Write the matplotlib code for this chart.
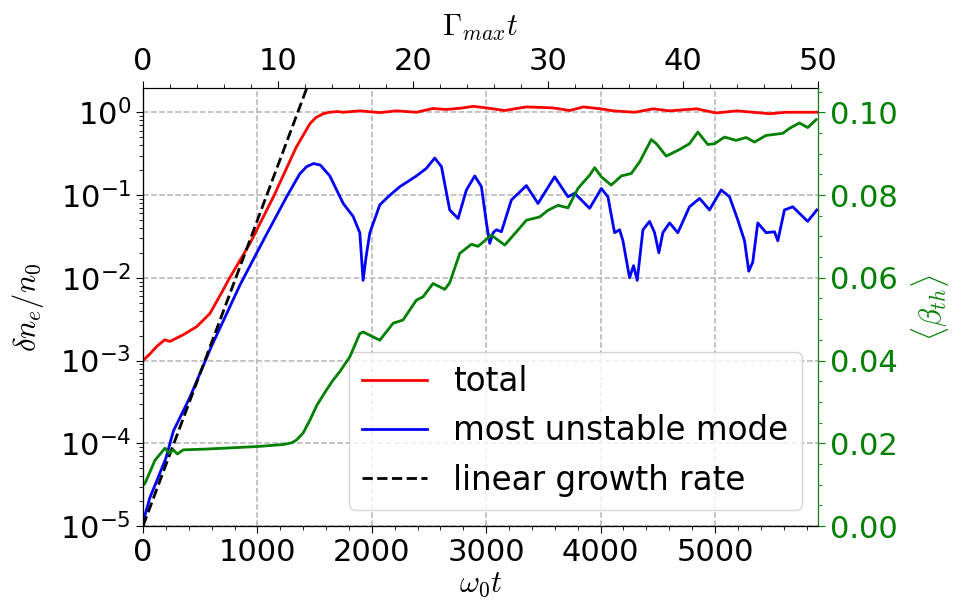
"""
Density perturbation growth and mean thermal beta vs. time.
"""

import matplotlib
matplotlib.use("Agg")
import matplotlib.pyplot as plt
from matplotlib.ticker import MultipleLocator

plt.rcParams["mathtext.fontset"] = "cm"
plt.rcParams["font.size"] = 22
plt.rcParams["xtick.major.size"] = 5
plt.rcParams["ytick.major.size"] = 5
plt.rcParams["xtick.minor.size"] = 3
plt.rcParams["ytick.minor.size"] = 3

# -----------------------------------------------------------------------------
# Data (omega_0 t)
# -----------------------------------------------------------------------------

T_TOTAL = [0, 60, 120, 190, 235, 350, 470, 585, 700, 745, 935, 1140, 1340,
           1460, 1510, 1575, 1630, 1700, 1750, 1895, 2070, 2215, 2390, 2535,
           2650, 2780, 2885, 3000, 3160, 3350, 3580, 3730, 3850, 4000, 4110,
           4300, 4460, 4600, 4840, 5010, 5190, 5480, 5620, 5900]
DN_TOTAL = [1.0e-3, 1.2e-3, 1.48e-3, 1.78e-3, 1.7e-3, 2.04e-3, 2.57e-3,
            3.7e-3, 7.1e-3, 9.3e-3, 2.6e-2, 9.5e-2, 0.38, 0.73, 0.86, 0.96,
            1.0, 1.02, 1.0, 1.04, 0.99, 1.04, 1.0, 1.11, 1.08, 1.12, 1.18,
            1.13, 1.05, 1.16, 1.13, 1.05, 1.16, 1.10, 1.04, 1.0, 1.10, 1.04,
            1.10, 0.98, 1.04, 0.96, 1.0, 1.0]

T_MODE = [0, 20, 60, 120, 200, 265, 410, 600, 850, 1050, 1255, 1370, 1430,
          1490, 1550, 1633, 1750, 1837, 1895, 1924, 1950, 1983, 2070, 2142,
          2245, 2390, 2477, 2550, 2609, 2681, 2754, 2827, 2900, 2958, 3002,
          3031, 3060, 3089, 3133, 3220, 3351, 3453, 3526, 3598, 3715, 3773,
          3904, 4006, 4064, 4122, 4166, 4195, 4253, 4288, 4320, 4370, 4428,
          4472, 4509, 4544, 4603, 4675, 4777, 4865, 4952, 5054, 5127, 5199,
          5258, 5295, 5330, 5374, 5447, 5520, 5549, 5607, 5680, 5810, 5890]
DN_MODE = [1.0e-5, 1.4e-5, 2.2e-5, 3.5e-5, 6.6e-5, 1.4e-4, 3.6e-4, 1.5e-3,
           8.3e-3, 2.8e-2, 9.5e-2, 0.18, 0.22, 0.24, 0.23, 0.17, 0.079, 0.055,
           0.035, 0.0093, 0.018, 0.035, 0.076, 0.095, 0.126, 0.17, 0.21, 0.28,
           0.22, 0.066, 0.052, 0.115, 0.17, 0.126, 0.046, 0.026, 0.035, 0.038,
           0.036, 0.087, 0.13, 0.079, 0.115, 0.166, 0.095, 0.105, 0.069, 0.12,
           0.095, 0.035, 0.038, 0.028, 0.010, 0.014, 0.0093, 0.038, 0.048,
           0.035, 0.020, 0.035, 0.046, 0.035, 0.072, 0.091, 0.066, 0.115,
           0.095, 0.050, 0.028, 0.012, 0.0155, 0.046, 0.035, 0.036, 0.028,
           0.066, 0.072, 0.048, 0.066]

# exponential growth at Gamma_max (straight line on the log axis)
T_LINEAR = [0, 1500]
DN_LINEAR = [1.0e-5, 3.5]

T_BETA = [0, 17, 105, 192, 230, 265, 300, 352, 556, 993, 1226, 1300, 1342,
          1400, 1459, 1520, 1604, 1660, 1720, 1808, 1895, 1924, 2070, 2186,
          2273, 2390, 2448, 2535, 2638, 2681, 2769, 2871, 2929, 3045, 3162,
          3264, 3351, 3467, 3540, 3627, 3715, 3802, 3904, 3948, 4006, 4093,
          4181, 4268, 4341, 4443, 4487, 4574, 4690, 4777, 4850, 4937, 4996,
          5083, 5185, 5272, 5345, 5447, 5592, 5651, 5738, 5810, 5884]
BETA_TH = [0.0098, 0.0103, 0.0159, 0.0188, 0.0176, 0.0184, 0.0174, 0.0184,
           0.0186, 0.0192, 0.0197, 0.0201, 0.0208, 0.0225, 0.0256, 0.0292,
           0.0329, 0.0352, 0.0373, 0.0409, 0.0465, 0.0469, 0.0449, 0.0490,
           0.0498, 0.0546, 0.0554, 0.0586, 0.0572, 0.0588, 0.0659, 0.0681,
           0.0676, 0.0703, 0.0679, 0.0711, 0.0739, 0.0747, 0.0763, 0.0775,
           0.0769, 0.0816, 0.0848, 0.0866, 0.0844, 0.0824, 0.0846, 0.0852,
           0.0880, 0.0934, 0.0924, 0.0894, 0.0910, 0.0924, 0.0952, 0.0922,
           0.0924, 0.0940, 0.0932, 0.0939, 0.0928, 0.0944, 0.0949, 0.0961,
           0.0974, 0.0963, 0.0982]

T_MAX = 5900
GAMMA_T_MAX = 50

# -----------------------------------------------------------------------------
# Plot
# -----------------------------------------------------------------------------

fig, ax = plt.subplots(figsize=(9.63, 6.15), dpi=100)
fig.subplots_adjust(left=0.1485, right=0.8494, bottom=0.1447, top=0.8569)

ax.plot(T_TOTAL, DN_TOTAL, color="red", lw=2, label="total")
ax.plot(T_MODE, DN_MODE, color="blue", lw=2, label="most unstable mode")
ax.plot(T_LINEAR, DN_LINEAR, color="black", lw=2, ls="--",
        label="linear growth rate")

ax.set_yscale("log")
ax.set_xlim(0, T_MAX)
ax.set_ylim(1e-5, 10 ** 0.293)
ax.xaxis.set_minor_locator(MultipleLocator(200))
ax.set_xlabel(r"$\omega_0 t$", labelpad=2)
ax.set_ylabel(r"$\delta n_e/n_0$", labelpad=10)
ax.grid(True, which="major", color="0.7", ls="--", lw=1.1)
ax.legend(loc="lower right", fontsize=23.5)

# top axis in units of the max growth rate
ax_top = ax.twiny()
ax_top.set_xlim(0, GAMMA_T_MAX)
ax_top.xaxis.set_major_locator(MultipleLocator(10))
ax_top.xaxis.set_minor_locator(MultipleLocator(2))
ax_top.set_xlabel(r"$\Gamma_{max} t$", labelpad=8)
ax_top.spines["right"].set_visible(False)

# right axis: mean thermal beta
ax_b = ax.twinx()
ax_b.plot(T_BETA, BETA_TH, color="green", lw=2)
ax_b.set_ylim(0, 0.02 * 5.293)
ax_b.yaxis.set_major_locator(MultipleLocator(0.02))
ax_b.yaxis.set_minor_locator(MultipleLocator(0.005))
ax_b.set_ylabel(r"$\langle\beta_{th}\rangle$", color="green", labelpad=8)
ax_b.tick_params(axis="y", which="both", colors="green")
ax_b.spines["right"].set_color("green")
ax_b.spines["top"].set_visible(False)

fig.savefig("out.png", dpi=100)
